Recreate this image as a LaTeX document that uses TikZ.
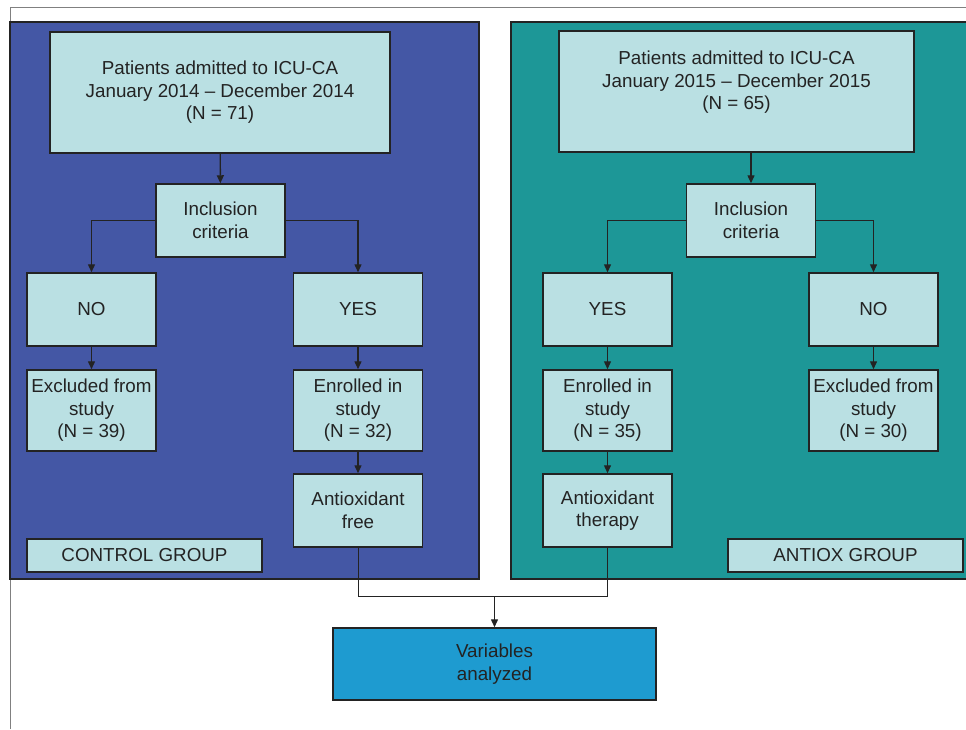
\documentclass[tikz,border=0pt]{standalone}
\usepackage{fontspec}
\setmainfont{Liberation Sans}
\usepackage{tikz}
\usetikzlibrary{arrows.meta}

\definecolor{panelblue}{RGB}{68,87,165}
\definecolor{panelteal}{RGB}{29,151,151}
\definecolor{boxfill}{RGB}{186,224,227}
\definecolor{resultfill}{RGB}{30,155,208}
\definecolor{inkgray}{RGB}{35,35,35}

\begin{document}
\begin{tikzpicture}[x=1pt,y=-1pt,
		box/.style={draw=inkgray, line width=1.5pt, fill=boxfill, text=inkgray, align=center, inner sep=0pt, font=\fontsize{18.8}{22.5}\selectfont},
		small/.style={box, minimum width=129pt, minimum height=73pt},
		tall/.style={box, minimum width=129pt, minimum height=81pt},
		tag/.style={box, minimum width=235pt, minimum height=33pt},
		flow/.style={draw=inkgray, line width=1.4pt, -{Triangle[length=8pt,width=7pt]}}]
		\useasboundingbox (0,0) rectangle (966,729);
		\draw [color=gray, line width=0.8pt] (10,729) -- (10,7) -- (966,7);
		\draw [draw=inkgray, fill=panelblue, line width=1.5pt] (10,22) rectangle (479,579);
		\draw [draw=inkgray, fill=panelteal, line width=1.5pt] (511,22) rectangle (975,579);
		
		\node [box, minimum width=340pt, minimum height=121pt] (topL) at (220,92.5) {Patients admitted to ICU-CA\\January 2014 -- December 2014\\(N = 71)};
		\node [small] (incL) at (220.5,220.5) {Inclusion\\criteria};
		\node [small] (noL) at (91.5,309.5) {NO};
		\node [small] (yesL) at (358,309.5) {YES};
		\node [tall] (exL) at (91.5,410.5) {Excluded from\\study\\(N = 39)};
		\node [tall] (enL) at (358,410.5) {Enrolled in\\study\\(N = 32)};
		\node [small] (afL) at (358,510.5) {Antioxidant\\free};
		\node [tag] (ctrl) at (144.5,555.5) {CONTROL GROUP};
		
		\node [box, minimum width=355pt, minimum height=121pt] (topR) at (736.5,91.5) {Patients admitted to ICU-CA\\January 2015 -- December 2015\\(N = 65)\\\mbox{}};
		\node [small] (incR) at (751,220.5) {Inclusion\\criteria};
		\node [small] (yesR) at (607.5,309.5) {YES};
		\node [small] (noR) at (873.5,309.5) {NO};
		\node [tall] (enR) at (607.5,410.5) {Enrolled in\\study\\(N = 35)};
		\node [tall] (exR) at (873.5,410.5) {Excluded from\\study\\(N = 30)};
		\node [small] (atR) at (607.5,510.5) {Antioxidant\\therapy};
		\node [tag] (antiox) at (845.5,555.5) {ANTIOX GROUP};
		
		\node [box, fill=resultfill, minimum width=323pt, minimum height=72pt] (var) at (494.5,664) {Variables\\analyzed};
		
		\draw [flow] (topL) -- (incL);
		\draw [flow] (incL.west) -| (noL.north);
		\draw [flow] (incL.east) -| (yesL.north);
		\draw [flow] (noL) -- (exL);
		\draw [flow] (yesL) -- (enL);
		\draw [flow] (enL) -- (afL);
		
		\draw [flow] (topR.south -| incR.north) -- (incR.north);
		\draw [flow] (incR.west) -| (yesR.north);
		\draw [flow] (incR.east) -| (noR.north);
		\draw [flow] (yesR) -- (enR);
		\draw [flow] (noR) -- (exR);
		\draw [flow] (enR) -- (atR);
		
		\coordinate (join) at (494.5,596);
		\draw [draw=inkgray, line width=1pt] (afL.south) |- (join) -| (atR.south);
		\draw [flow] (join) -- (var.north);
	\end{tikzpicture}
\end{document}
